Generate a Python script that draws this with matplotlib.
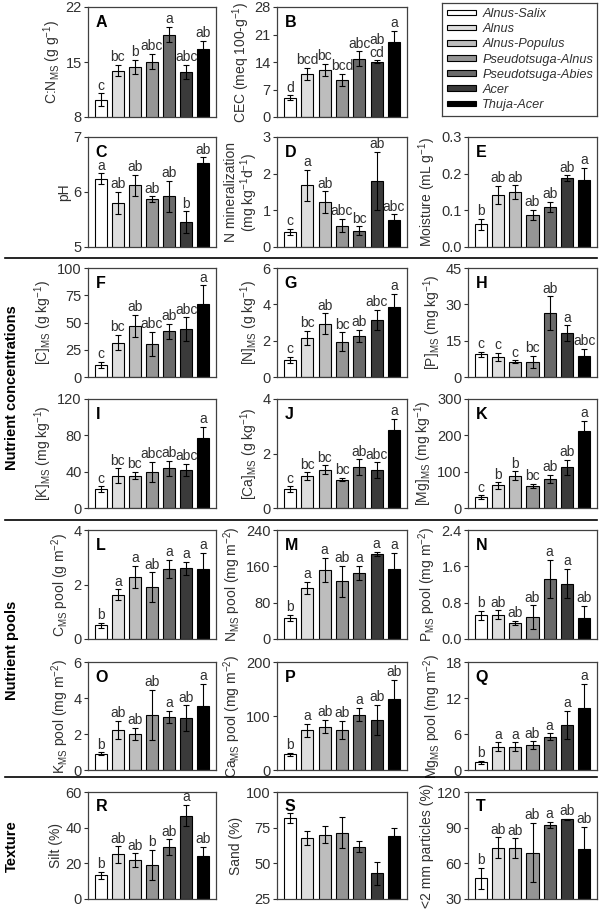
import matplotlib
matplotlib.use('Agg')
import matplotlib.pyplot as plt
from matplotlib.lines import Line2D
from matplotlib.patches import Patch
import numpy as np

plt.rcParams['font.family'] = ['Liberation Sans', 'DejaVu Sans']
plt.rcParams['mathtext.fontset'] = 'custom'
plt.rcParams['mathtext.rm'] = 'Liberation Sans'
plt.rcParams['mathtext.it'] = 'Liberation Sans:italic'

TXT = '#303030'

stands = ['Alnus-Salix', 'Alnus', 'Alnus-Populus', 'Pseudotsuga-Alnus',
          'Pseudotsuga-Abies', 'Acer', 'Thuja-Acer']
colors = ['#ffffff', '#dedede', '#bdbdbd', '#959595', '#6a6a6a', '#3a3a3a', '#000000']

# A - C:N
cn_mean = [10.2, 13.9, 14.4, 15.05, 18.5, 13.7, 16.7]
cn_err = [0.8, 0.7, 0.9, 0.95, 1.0, 0.9, 1.0]
cn_let = ['c', 'bc', 'b', 'abc', 'a', 'abc', 'ab']
# B - CEC
cec_mean = [4.9, 10.9, 12.0, 9.4, 14.8, 14.1, 19.2]
cec_err = [0.6, 1.6, 1.5, 1.5, 1.9, 0.3, 2.7]
cec_let = ['d', 'bcd', 'bc', 'bcd', 'abc', 'ab\ncd', 'a']
# C - pH
ph_mean = [6.24, 5.8, 6.12, 5.87, 5.92, 5.45, 6.53]
ph_err = [0.1, 0.2, 0.19, 0.05, 0.28, 0.2, 0.1]
ph_let = ['a', 'ab', 'ab', 'ab', 'ab', 'b', 'ab']
# D - N mineralization
nmin_mean = [0.41, 1.68, 1.22, 0.58, 0.44, 1.8, 0.74]
nmin_err = [0.08, 0.42, 0.3, 0.18, 0.12, 0.8, 0.15]
nmin_let = ['c', 'a', 'ab', 'abc', 'bc', 'ab', 'abc']
# E - moisture
moist_mean = [0.062, 0.141, 0.15, 0.0875, 0.109, 0.187, 0.182]
moist_err = [0.015, 0.025, 0.018, 0.014, 0.014, 0.008, 0.034]
moist_let = ['b', 'ab', 'ab', 'ab', 'ab', 'ab', 'a']
# F - [C]
c_mean = [11, 31.5, 46.8, 30.2, 42, 43.6, 67]
c_err = [3, 7, 10, 11, 7, 11, 17]
c_let = ['c', 'bc', 'ab', 'abc', 'ab', 'abc', 'a']
# G - [N]
n_mean = [0.93, 2.15, 2.94, 1.94, 2.28, 3.12, 3.88]
n_err = [0.18, 0.4, 0.56, 0.52, 0.33, 0.56, 0.7]
n_let = ['c', 'bc', 'ab', 'bc', 'ab', 'abc', 'a']
# H - [P]
p_mean = [9.4, 8.3, 6.3, 6.3, 26.3, 18.1, 8.7]
p_err = [1.1, 1.7, 0.6, 2.4, 7.0, 3.2, 2.8]
p_let = ['c', 'c', 'c', 'bc', 'ab', 'a', 'abc']
# I - [K]
k_mean = [20.7, 35.6, 35.6, 40, 43.6, 41.8, 77.4]
k_err = [3, 8, 4, 11, 8, 6.5, 12]
k_let = ['c', 'bc', 'bc', 'abc', 'ab', 'abc', 'a']
# J - [Ca]
ca_mean = [0.70, 1.16, 1.41, 1.04, 1.5, 1.38, 2.87]
ca_err = [0.1, 0.15, 0.15, 0.06, 0.28, 0.29, 0.39]
ca_let = ['c', 'bc', 'bc', 'bc', 'ab', 'abc', 'a']
# K - [Mg]
mg_mean = [30, 62, 88.5, 61, 79.5, 112, 212]
mg_err = [5, 9, 12, 5, 12, 20, 28]
mg_let = ['c', 'b', 'b', 'bc', 'ab', 'ab', 'a']
# L - C pool
cpool_mean = [0.5, 1.62, 2.27, 1.9, 2.57, 2.6, 2.56]
cpool_err = [0.1, 0.2, 0.41, 0.55, 0.33, 0.24, 0.61]
cpool_let = ['b', 'a', 'a', 'ab', 'a', 'a', 'a']
# M - N pool
npool_mean = [46, 113, 152, 127, 146, 187.5, 154]
npool_err = [7, 13, 27, 34, 15, 5, 35]
npool_let = ['b', 'a', 'a', 'ab', 'a', 'a', 'a']
# N - P pool
ppool_mean = [0.52, 0.53, 0.35, 0.48, 1.33, 1.22, 0.46]
ppool_err = [0.1, 0.1, 0.05, 0.26, 0.42, 0.32, 0.27]
ppool_let = ['b', 'ab', 'ab', 'ab', 'a', 'a', 'ab']
# O - K pool
kpool_mean = [0.9, 2.22, 2.02, 3.04, 2.94, 2.87, 3.55]
kpool_err = [0.08, 0.5, 0.33, 1.4, 0.33, 0.72, 1.24]
kpool_let = ['b', 'ab', 'ab', 'ab', 'a', 'ab', 'a']
# P - Ca pool
capool_mean = [29, 73.5, 80.4, 73.5, 102.7, 92.6, 131]
capool_err = [3, 12, 12, 17, 12, 28, 36]
capool_let = ['b', 'a', 'ab', 'ab', 'a', 'ab', 'ab']
# Q - Mg pool
mgpool_mean = [1.27, 3.9, 3.9, 4.17, 5.55, 7.55, 10.4]
mgpool_err = [0.3, 0.7, 0.7, 0.6, 0.55, 2.3, 4.0]
mgpool_let = ['b', 'a', 'a', 'ab', 'a', 'a', 'a']
# R - silt
silt_mean = [13.4, 25, 21.7, 19, 29.1, 46.8, 24.1]
silt_err = [2, 4.6, 3.9, 8.5, 4.3, 6, 5.2]
silt_let = ['b', 'ab', 'ab', 'b', 'ab', 'a', 'ab']
# S - sand
sand_mean = [81.7, 67.9, 70.2, 71.6, 61.7, 42.9, 69.3]
sand_err = [3.5, 4.8, 5.7, 10.7, 3.9, 8, 5.5]
sand_let = [''] * 7
# T - <2 mm particles
fine_mean = [47.4, 73.2, 72.7, 69, 92, 97, 71.9]
fine_err = [8.8, 8.6, 8.3, 25, 2.7, 0.6, 18.7]
fine_let = ['b', 'ab', 'ab', 'ab', 'a', 'ab', 'ab']

# (letter, mean, err, letters, ylabel, ylim, ticks, fmt, row, col)
panels = [
    ('A', cn_mean, cn_err, cn_let, 'C:N$_{\\rm MS}$ (g g$^{-1}$)', (8, 22), [8, 15, 22], '%d', 0, 0),
    ('B', cec_mean, cec_err, cec_let, 'CEC (meq 100-g$^{-1}$)', (0, 28), [0, 7, 14, 21, 28], '%d', 0, 1),
    ('C', ph_mean, ph_err, ph_let, 'pH', (5, 7), [5, 6, 7], '%d', 1, 0),
    ('D', nmin_mean, nmin_err, nmin_let, 'N mineralization\n(mg kg$^{-1}$d$^{-1}$)', (0, 3), [0, 1, 2, 3], '%d', 1, 1),
    ('E', moist_mean, moist_err, moist_let, 'Moisture (mL g$^{-1}$)', (0, 0.3), [0, 0.1, 0.2, 0.3], '%.1f', 1, 2),
    ('F', c_mean, c_err, c_let, '[C]$_{\\rm MS}$ (g kg$^{-1}$)', (0, 100), [0, 25, 50, 75, 100], '%d', 2, 0),
    ('G', n_mean, n_err, n_let, '[N]$_{\\rm MS}$ (g kg$^{-1}$)', (0, 6), [0, 2, 4, 6], '%d', 2, 1),
    ('H', p_mean, p_err, p_let, '[P]$_{\\rm MS}$ (mg kg$^{-1}$)', (0, 45), [0, 15, 30, 45], '%d', 2, 2),
    ('I', k_mean, k_err, k_let, '[K]$_{\\rm MS}$ (mg kg$^{-1}$)', (0, 120), [0, 40, 80, 120], '%d', 3, 0),
    ('J', ca_mean, ca_err, ca_let, '[Ca]$_{\\rm MS}$ (g kg$^{-1}$)', (0, 4), [0, 2, 4], '%d', 3, 1),
    ('K', mg_mean, mg_err, mg_let, '[Mg]$_{\\rm MS}$ (mg kg$^{-1}$)', (0, 300), [0, 100, 200, 300], '%d', 3, 2),
    ('L', cpool_mean, cpool_err, cpool_let, 'C$_{\\rm MS}$ pool (g m$^{-2}$)', (0, 4), [0, 2, 4], '%d', 4, 0),
    ('M', npool_mean, npool_err, npool_let, 'N$_{\\rm MS}$ pool (mg m$^{-2}$)', (0, 240), [0, 80, 160, 240], '%d', 4, 1),
    ('N', ppool_mean, ppool_err, ppool_let, 'P$_{\\rm MS}$ pool (mg m$^{-2}$)', (0, 2.4), [0, 0.8, 1.6, 2.4], '%.1f', 4, 2),
    ('O', kpool_mean, kpool_err, kpool_let, 'K$_{\\rm MS}$ pool (mg m$^{-2}$)', (0, 6), [0, 2, 4, 6], '%d', 5, 0),
    ('P', capool_mean, capool_err, capool_let, 'Ca$_{\\rm MS}$ pool (mg m$^{-2}$)', (0, 200), [0, 100, 200], '%d', 5, 1),
    ('Q', mgpool_mean, mgpool_err, mgpool_let, 'Mg$_{\\rm MS}$ pool (mg m$^{-2}$)', (0, 18), [0, 6, 12, 18], '%d', 5, 2),
    ('R', silt_mean, silt_err, silt_let, 'Silt (%)', (0, 60), [0, 20, 40, 60], '%d', 6, 0),
    ('S', sand_mean, sand_err, sand_let, 'Sand (%)', (25, 100), [25, 50, 75, 100], '%d', 6, 1),
    ('T', fine_mean, fine_err, fine_let, '<2 mm particles (%)', (30, 120), [30, 60, 90, 120], '%d', 6, 2),
]

W, H = 600, 910
row_px = [(7, 117), (137, 247), (268, 377), (399, 508), (530, 639), (662, 770), (792, 899)]
col_px = [(88, 216), (277, 407), (468, 597)]

fig = plt.figure(figsize=(6, 9.1), dpi=100)

x = np.arange(7)
for tag, mean, err, lets, ylab, ylim, ticks, fmt, r, c in panels:
    x0, x1 = col_px[c]
    y0, y1 = row_px[r]
    ax = fig.add_axes([x0 / W, 1 - y1 / H, (x1 - x0) / W, (y1 - y0) / H])
    ax.bar(x, mean, width=0.7, color=colors, edgecolor='black', linewidth=0.8, zorder=2)
    ax.errorbar(x, mean, yerr=err, fmt='none', ecolor='black', elinewidth=0.8,
                capsize=2, capthick=0.8, zorder=3)
    for xi, m, e, l in zip(x, mean, err, lets):
        if l:
            ax.annotate(l, (xi, m + e), xytext=(0, 0.5), textcoords='offset points',
                        ha='center', va='bottom', fontsize=10, color=TXT,
                        linespacing=0.85)
    ax.set_xlim(-0.75, 6.75)
    ax.set_ylim(*ylim)
    ax.set_yticks(ticks)
    ax.set_yticklabels([fmt % t for t in ticks])
    ax.set_xticks([])
    ax.tick_params(axis='y', direction='out', length=3, width=0.8, labelsize=10.5,
                   colors=TXT, pad=1.5)
    for s in ax.spines.values():
        s.set_color('#404040')
        s.set_linewidth(0.9)
    ax.set_ylabel(ylab, fontsize=10, color=TXT, labelpad=2, linespacing=1.0)
    ax.text(0.06, 0.93, tag, transform=ax.transAxes, ha='left', va='top',
            fontsize=11.5, fontweight='bold', color='black')

# legend box
lax = fig.add_axes([442 / W, 1 - 116 / H, 155 / W, 113 / H])
lax.set_xticks([])
lax.set_yticks([])
for s in lax.spines.values():
    s.set_color('#404040')
    s.set_linewidth(0.9)
handles = [Patch(facecolor=col, edgecolor='black', linewidth=0.8) for col in colors]
lax.legend(handles, stands, loc='center left', frameon=False, handlelength=2.3,
           handleheight=0.3, handletextpad=0.45, labelspacing=0.25,
           borderaxespad=0.1, borderpad=0.3,
           prop={'style': 'italic', 'size': 9.2}, labelcolor=TXT)

# section separators
for yp in [258, 520, 777]:
    fig.add_artist(Line2D([5 / W, 597 / W], [1 - yp / H, 1 - yp / H],
                          color='black', linewidth=1.2))

# section titles
for label, yc in [('Nutrient concentrations', 388), ('Nutrient pools', 650), ('Texture', 846)]:
    fig.text(12 / W, 1 - yc / H, label, rotation=90, ha='center', va='center',
             fontsize=10.5, fontweight='bold', color='black')

fig.savefig('out.png', dpi=100)
